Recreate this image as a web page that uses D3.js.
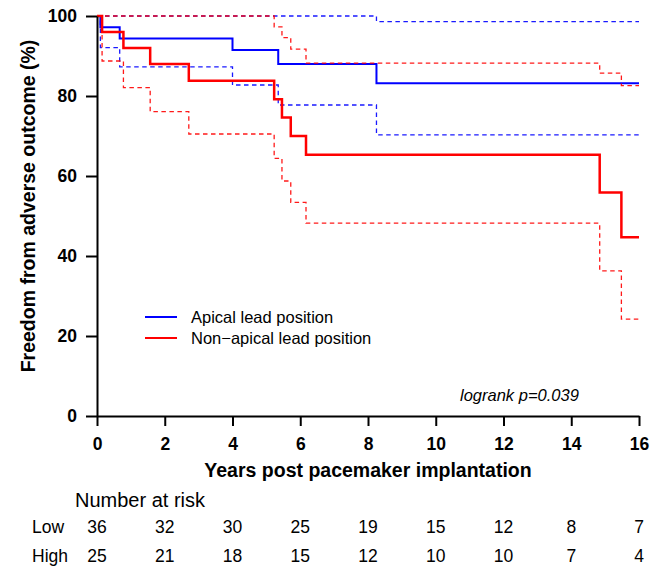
<!DOCTYPE html>
<html>
<head>
<meta charset="utf-8">
<script src="https://cdn.jsdelivr.net/npm/d3@7"></script>
<style>
  body { margin: 0; background: #fff; }
  svg text { font-family: "Liberation Sans", Arial, sans-serif; }
</style>
</head>
<body>
<div id="chart"></div>
<script>
// Kaplan-Meier estimates
var apicalTimes = [0, 0.1, 0.67, 4.0, 5.35, 8.25, 16];
var apicalSurv = [100, 97.2, 94.4, 91.5, 88.0, 83.2, 83.2];
var apicalLower = [100, 92.1, 87.3, 82.75, 77.75, 70.3, 70.3];
var apicalUpperTimes = [0, 8.25, 16];
var apicalUpper = [100, 98.6, 98.6];

var nonApicalTimes = [0, 0.15, 0.78, 1.57, 2.71, 5.23, 5.46, 5.72, 6.17, 14.84, 15.48, 16];
var nonApicalSurv = [100, 96.0, 92.0, 88.0, 83.8, 79.2, 74.6, 70.0, 65.3, 55.9, 44.7, 44.7];
var nonApicalLower = [100, 88.75, 82.1, 76.1, 70.5, 64.4, 58.75, 53.4, 48.2, 36.3, 24.2, 24.2];
var nonApicalUpperTimes = [0, 5.23, 5.46, 5.72, 6.17, 14.84, 15.48, 16];
var nonApicalUpper = [100, 97.3, 94.6, 91.7, 88.2, 85.7, 82.6, 82.6];

var xTicks = [0, 2, 4, 6, 8, 10, 12, 14, 16];
var yTicks = [0, 20, 40, 60, 80, 100];
var riskGroups = ["Low", "High"];
var riskLow = [36, 32, 30, 25, 19, 15, 12, 8, 7];
var riskHigh = [25, 21, 18, 15, 12, 10, 10, 7, 4];
var legendLabels = ["Apical lead position", "Non\u2212apical lead position"];

var width = 660, height = 569;
var svg = d3.select("#chart").append("svg")
    .attr("width", width)
    .attr("height", height);

var x = d3.scaleLinear().domain([0, 16]).range([97, 639]);
var y = d3.scaleLinear().domain([0, 100]).range([416, 16]);

var zip = function (ts, vs) {
    return ts.map(function (t, i) { return [t, vs[i]]; });
};
var line = d3.line()
    .x(function (d) { return x(d[0]); })
    .y(function (d) { return y(d[1]); })
    .curve(d3.curveStepAfter);

var series = [
    { color: "#0000ff", width: 2, dash: null, data: zip(apicalTimes, apicalSurv) },
    { color: "#0000ff", width: 1.3, dash: "4.5,3.5", data: zip(apicalTimes, apicalLower) },
    { color: "#0000ff", width: 1.3, dash: "4.5,3.5", data: zip(apicalUpperTimes, apicalUpper) },
    { color: "#ff0000", width: 1.3, dash: "4.5,3.5", data: zip(nonApicalTimes, nonApicalLower) },
    { color: "#ff0000", width: 1.3, dash: "4.5,3.5", data: zip(nonApicalUpperTimes, nonApicalUpper) },
    { color: "#ff0000", width: 2.5, dash: null, data: zip(nonApicalTimes, nonApicalSurv) }
];

svg.selectAll(".curve")
    .data(series)
    .enter()
    .append("path")
    .attr("class", "curve")
    .attr("d", function (d) { return line(d.data); })
    .attr("fill", "none")
    .attr("stroke", function (d) { return d.color; })
    .attr("stroke-width", function (d) { return d.width; })
    .attr("stroke-opacity", function (d) { return d.dash ? 0.9 : 1; })
    .attr("stroke-dasharray", function (d) { return d.dash; });

// axes
var xAxis = svg.append("g")
    .attr("transform", "translate(0,416)")
    .call(d3.axisBottom(x).tickValues(xTicks).tickSize(10).tickSizeOuter(0).tickPadding(12));
var yAxis = svg.append("g")
    .attr("transform", "translate(97,0)")
    .call(d3.axisLeft(y).tickValues(yTicks).tickSize(11).tickSizeOuter(0).tickPadding(9));

[xAxis, yAxis].forEach(function (g) {
    g.select(".domain").attr("stroke", "#000").attr("stroke-width", 2);
    g.selectAll(".tick line").attr("stroke", "#000").attr("stroke-width", 2);
    g.selectAll(".tick text")
        .attr("fill", "#000")
        .style("font-family", "'Liberation Sans', Arial, sans-serif")
        .style("font-size", "17.5px")
        .style("font-weight", "bold");
});

svg.append("text")
    .attr("x", 368)
    .attr("y", 477)
    .attr("text-anchor", "middle")
    .style("font-size", "19.5px")
    .style("font-weight", "bold")
    .text("Years post pacemaker implantation");

svg.append("text")
    .attr("transform", "translate(35,206) rotate(-90)")
    .attr("text-anchor", "middle")
    .style("font-size", "19.5px")
    .style("font-weight", "bold")
    .text("Freedom from adverse outcome (%)");

// legend
var legend = svg.selectAll(".legend")
    .data(legendLabels)
    .enter()
    .append("g")
    .attr("class", "legend")
    .attr("transform", function (d, i) { return "translate(145," + (317 + i * 21) + ")"; });
legend.append("line")
    .attr("x1", 0).attr("x2", 32)
    .attr("stroke", function (d, i) { return i === 0 ? "#0000ff" : "#ff0000"; })
    .attr("stroke-width", 2);
legend.append("text")
    .attr("x", 46)
    .attr("dy", "0.35em")
    .style("font-size", "16.5px")
    .text(function (d) { return d; });

svg.append("text")
    .attr("x", 460)
    .attr("y", 401)
    .style("font-size", "16.5px")
    .style("font-style", "italic")
    .text("logrank p=0.039");

// number at risk table
svg.append("text")
    .attr("x", 75)
    .attr("y", 507)
    .style("font-size", "20px")
    .text("Number at risk");

var riskRows = [riskLow, riskHigh];
riskRows.forEach(function (row, r) {
    var yy = 533 + r * 29;
    svg.append("text")
        .attr("x", 32)
        .attr("y", yy)
        .style("font-size", "17.5px")
        .text(riskGroups[r]);
    svg.selectAll(".risk" + r)
        .data(row)
        .enter()
        .append("text")
        .attr("class", "risk" + r)
        .attr("x", function (d, i) { return x(xTicks[i]); })
        .attr("y", yy)
        .attr("text-anchor", "middle")
        .style("font-size", "17.5px")
        .text(function (d) { return d; });
});
</script>
</body>
</html>
